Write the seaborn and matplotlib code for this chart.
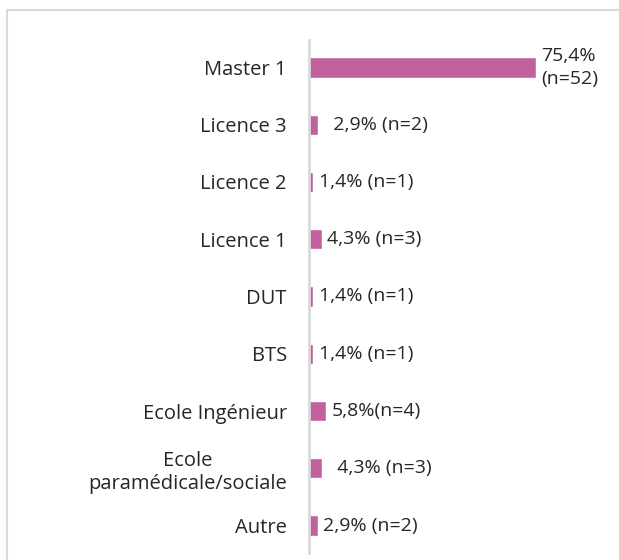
import matplotlib
matplotlib.use("Agg")
import matplotlib.pyplot as plt
import seaborn as sns
import pandas as pd
from matplotlib.patches import Rectangle

categories = ["Master 1", "Licence 3", "Licence 2", "Licence 1", "DUT", "BTS",
              "Ecole Ingénieur", "Ecole\nparamédicale/sociale", "Autre"]
values = [75.4, 2.9, 1.4, 4.3, 1.4, 1.4, 5.8, 4.3, 2.9]
value_labels = ["75,4%\n(n=52)", "  2,9% (n=2)", "1,4% (n=1)", "4,3% (n=3)",
                "1,4% (n=1)", "1,4% (n=1)", "5,8%(n=4)", "  4,3% (n=3)", "2,9% (n=2)"]

sns.set_theme(style="white")
plt.rcParams['font.family'] = ['Open Sans', 'DejaVu Sans']

df = pd.DataFrame({"cat": categories, "val": values})

fig = plt.figure(figsize=(6.19, 5.6), dpi=100)
W, H = 619, 560
ax = fig.add_axes([309 / W, 1 - 553 / H, (610 - 309) / W, (553 - 40) / H])

sns.barplot(data=df, y="cat", x="val", orient="h", color="#C0609D",
            width=0.35, saturation=1, ax=ax)

ax.set_xlim(0, 100)
ax.set_ylim(8.48, -0.48)
ax.set_xlabel("")
ax.set_ylabel("")
ax.set_xticks([])
for s in ["top", "right", "bottom"]:
    ax.spines[s].set_visible(False)
ax.spines["left"].set_color("#D9D9D9")
ax.spines["left"].set_linewidth(2)
ax.tick_params(axis="y", length=0, pad=16, labelsize=14.5, labelcolor="#262626")
for t in ax.get_yticklabels():
    t.set_multialignment("center")

for i, (v, lab) in enumerate(zip(values, value_labels)):
    ax.annotate(lab, xy=(v, i), xytext=(4, 0), textcoords="offset points",
                va="center", ha="left", fontsize=14, color="#262626",
                linespacing=1.35)

fig.patches.append(Rectangle((7 / W, -0.05), 1.1, 1 - 10 / H + 0.05,
                             transform=fig.transFigure, fill=False,
                             edgecolor="#D9D9D9", linewidth=1.5))

fig.savefig("out.png", dpi=100, facecolor="white")
